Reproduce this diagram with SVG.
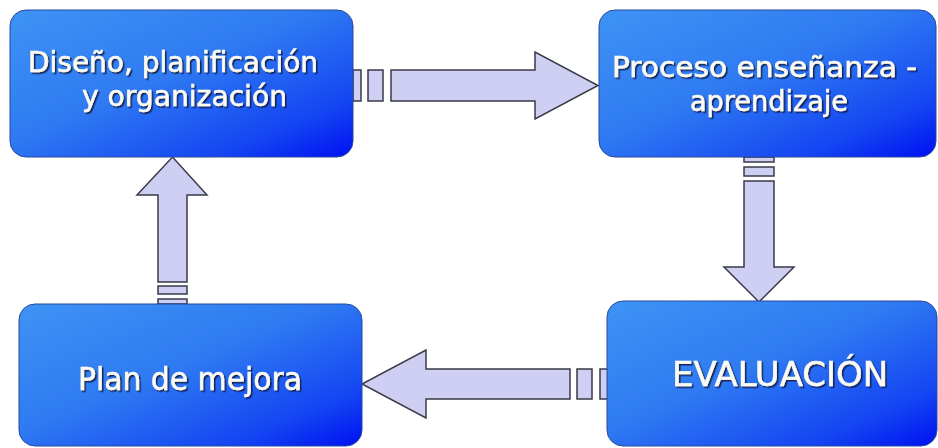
<svg xmlns="http://www.w3.org/2000/svg" width="938" height="448" viewBox="0 0 938 448">
  <defs>
    <linearGradient id="boxGrad" x1="0" y1="0" x2="1" y2="1">
      <stop offset="0" stop-color="#3f93f4"/>
      <stop offset="0.45" stop-color="#2f7af2"/>
      <stop offset="0.8" stop-color="#1446f2"/>
      <stop offset="1" stop-color="#0010f2"/>
    </linearGradient>
    <filter id="ts" x="-10%" y="-30%" width="120%" height="160%">
      <feDropShadow dx="1.6" dy="1.6" stdDeviation="0.7" flood-color="#0a1540" flood-opacity="0.85"/>
    </filter>
  </defs>
  <style>
    .box { fill: url(#boxGrad); stroke: #27489c; stroke-width: 1; }
    .lbl { font-family: "DejaVu Sans Condensed", "DejaVu Sans", "Liberation Sans", sans-serif; font-size: 28px; fill: #fbfbf4; stroke: #fbfbf4; stroke-width: 0.5; filter: url(#ts); }
    .one { font-size: 32px; }
    .caps { font-family: "DejaVu Sans", "Liberation Sans", sans-serif; font-size: 33px; }
    .arr { fill: #cfcff4; stroke: #3a3a48; stroke-width: 1.5; stroke-linejoin: miter; }
  </style>
  <rect width="938" height="448" fill="#ffffff"/>

  <g id="connectors">
    <!-- top: Diseño -> Proceso -->
    <rect class="arr" x="353" y="70" width="8" height="31"/>
    <rect class="arr" x="368" y="70" width="15" height="31"/>
    <polygon class="arr" points="391,70 535,70 535,52 598,85.5 535,119 535,101 391,101"/>
    <!-- right: Proceso -> Evaluación -->
    <rect class="arr" x="744" y="157" width="30" height="5"/>
    <rect class="arr" x="744" y="167" width="30" height="9"/>
    <polygon class="arr" points="744,181 774,181 774,267 794,267 759,302 724,267 744,267"/>
    <!-- bottom: Evaluación -> Plan de mejora -->
    <rect class="arr" x="600" y="369" width="8" height="30"/>
    <rect class="arr" x="577" y="369" width="15" height="30"/>
    <polygon class="arr" points="570,369 426,369 426,350 362,384 426,418 426,399 570,399"/>
    <!-- left: Plan de mejora -> Diseño -->
    <rect class="arr" x="158" y="299" width="29" height="5"/>
    <rect class="arr" x="158" y="286" width="29" height="8"/>
    <polygon class="arr" points="158,282 158,195 137,195 172.5,157 207,195 187,195 187,282"/>
  </g>

  <g id="node-diseno">
    <rect class="box" x="10" y="10" width="343" height="147" rx="16" ry="16"/>
    <text class="lbl" x="28" y="72" textLength="290" lengthAdjust="spacingAndGlyphs">Diseño, planificación</text>
    <text class="lbl" x="82" y="106" textLength="205" lengthAdjust="spacingAndGlyphs">y organización</text>
  </g>

  <g id="node-proceso">
    <rect class="box" x="599" y="10" width="337" height="147" rx="16" ry="16"/>
    <text class="lbl" x="612" y="77" textLength="305" lengthAdjust="spacingAndGlyphs">Proceso enseñanza -</text>
    <text class="lbl" x="690" y="111" textLength="158" lengthAdjust="spacingAndGlyphs">aprendizaje</text>
  </g>

  <g id="node-evaluacion">
    <rect class="box" x="607" y="301" width="330" height="145" rx="16" ry="16"/>
    <text class="lbl caps" x="672" y="386" textLength="216" lengthAdjust="spacingAndGlyphs">EVALUACIÓN</text>
  </g>

  <g id="node-plan">
    <rect class="box" x="19" y="304" width="343" height="142" rx="16" ry="16"/>
    <text class="lbl one" x="78" y="390" textLength="224" lengthAdjust="spacingAndGlyphs">Plan de mejora</text>
  </g>
</svg>
